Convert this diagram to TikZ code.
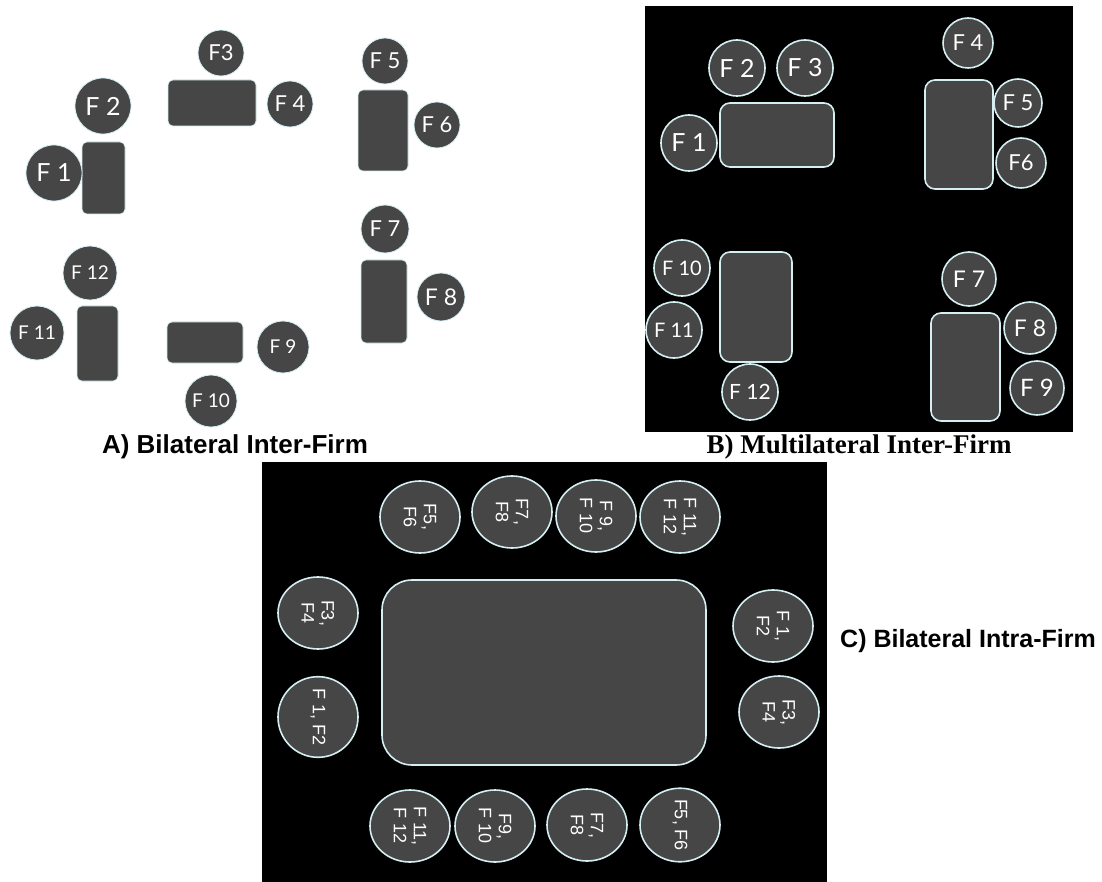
\documentclass[tikz,border=0pt]{standalone}
\usepackage{fontspec}
\setmainfont{Liberation Serif}
\setsansfont{Liberation Sans}
\newfontfamily\seatfont{Lato}
\usetikzlibrary{shapes.geometric}
\definecolor{seatgray}{HTML}{464646}
\definecolor{rim}{HTML}{D4EEF2}
\tikzset{
  seatA/.style={circle, fill=seatgray, draw=rim, line width=0.8pt, inner sep=0pt, text=white, font=\seatfont\fontsize{#1}{#1}\selectfont},
  seatB/.style={circle, fill=seatgray, draw=rim, line width=1.6pt, inner sep=0pt, text=white, font=\seatfont\fontsize{#1}{#1}\selectfont},
  tableA/.style={rectangle, rounded corners=5pt, fill=seatgray, draw=rim, line width=0.6pt, inner sep=0pt},
  tableB/.style={rectangle, rounded corners=10pt, fill=seatgray, draw=rim, line width=1.6pt, inner sep=0pt},
  seatC/.style={ellipse, fill=seatgray, draw=rim, line width=1.6pt, inner sep=0pt, minimum width=72pt, minimum height=80pt, text=white, rotate=-90, align=center, font=\sffamily\fontsize{18}{20}\selectfont},
  caption/.style={font=\bfseries\fontsize{#1}{#1}\selectfont, inner sep=0pt},
}
\begin{document}
\begin{tikzpicture}[x=1pt,y=-1pt]
\useasboundingbox (0,0) rectangle (1102,882);
\fill[white] (0,0) rectangle (1102,882);

% ---------------- Panel A ----------------
\node[tableA, minimum width=43pt, minimum height=72pt] (a1) at (103.5,178) {};
\node[tableA, minimum width=88pt, minimum height=46pt] (a2) at (212,103) {};
\node[tableA, minimum width=50pt, minimum height=81pt] (a3) at (383,130.5) {};
\node[tableA, minimum width=46pt, minimum height=83pt] (a4) at (384,301.5) {};
\node[tableA, minimum width=41pt, minimum height=75pt] (a5) at (97.5,343.5) {};
\node[tableA, minimum width=76pt, minimum height=41pt] (a6) at (205,342.5) {};

\node[seatA=22, minimum size=46pt] (aF3) at (221,53) {F3};
\node[seatA=22, minimum size=46pt] (aF4) at (290,104) {F 4};
\node[seatA=25, minimum size=56pt] (aF2) at (103,106) {F 2};
\node[seatA=25, minimum size=56pt] (aF1) at (54,173) {F 1};
\node[seatA=22, minimum size=46pt] (aF5) at (385,61) {F 5};
\node[seatA=22, minimum size=46pt] (aF6) at (437,125) {F 6};
\node[seatA=22, minimum size=48pt] (aF7) at (385,229) {F 7};
\node[seatA=23, minimum size=48pt] (aF8) at (441,297) {F 8};
\node[seatA=19, minimum size=54pt] (aF12) at (90,273) {F 12};
\node[seatA=19, minimum size=54pt] (aF11) at (37,333) {F 11};
\node[seatA=19, minimum size=52pt] (aF9) at (283,347) {F 9};
\node[seatA=19, minimum size=52pt] (aF10) at (211,401) {F 10};

\node[caption=26, font=\sffamily\bfseries\fontsize{26}{26}\selectfont] (capA) at (235,447) {A) Bilateral Inter-Firm};

% ---------------- Panel B ----------------
\fill[black] (645,6) rectangle (1073,432);
\node[tableB, minimum width=114pt, minimum height=64pt] (b1) at (777,135) {};
\node[tableB, minimum width=68pt, minimum height=109pt] (b2) at (959,134.5) {};
\node[tableB, minimum width=72pt, minimum height=110pt] (b3) at (756,307) {};
\node[tableB, minimum width=69pt, minimum height=108pt] (b4) at (965.5,367) {};

\node[seatB=25, minimum size=56pt] (bF2) at (737,68) {F 2};
\node[seatB=25, minimum size=56pt] (bF3) at (805,68) {F 3};
\node[seatB=25, minimum size=56pt] (bF1) at (689,143) {F 1};
\node[seatB=22, minimum size=50pt] (bF4) at (968,43) {F 4};
\node[seatB=22, minimum size=48pt] (bF5) at (1018,103) {F 5};
\node[seatB=22, minimum size=50pt] (bF6) at (1021,163) {F6};
\node[seatB=20, minimum size=56pt] (bF10) at (682,268) {F 10};
\node[seatB=20, minimum size=56pt] (bF11) at (674,330) {F 11};
\node[seatB=21, minimum size=56pt] (bF12) at (750,392) {F 12};
\node[seatB=23, minimum size=54pt] (bF7) at (969,279) {F 7};
\node[seatB=23, minimum size=52pt] (bF8) at (1030,328) {F 8};
\node[seatB=24, minimum size=54pt] (bF9) at (1037,388) {F 9};

\node[caption=27] (capB) at (859,447) {B) Multilateral Inter-Firm};

% ---------------- Panel C ----------------
\fill[black] (262,462) rectangle (827,882);
\node[rectangle, rounded corners=30pt, fill=seatgray, draw=rim, line width=1.6pt, minimum width=324pt, minimum height=185pt, inner sep=0pt] (c0) at (544,672.5) {};

\node[seatC] (cT1) at (420,517) {F5,\\F6};
\node[seatC] (cT2) at (512,512) {F7,\\F8};
\node[seatC] (cT3) at (596,516) {F 9,\\F 10};
\node[seatC] (cT4) at (680,517) {F 11,\\F 12};
\node[seatC] (cL1) at (318,613) {F3,\\F4};
\node[seatC] (cL2) at (318,717) {F 1, F2};
\node[seatC] (cR1) at (773,626) {F 1,\\F2};
\node[seatC] (cR2) at (779,712) {F3,\\F4};
\node[seatC] (cB1) at (410,826) {F 11,\\F 12};
\node[seatC] (cB2) at (495,826) {F9,\\F 10};
\node[seatC] (cB3) at (587,825) {F7,\\F8};
\node[seatC] (cB4) at (680,825) {F5, F6};

\node[caption=25, font=\sffamily\bfseries\fontsize{25}{25}\selectfont] (capC) at (968,641) {C) Bilateral Intra-Firm};
\end{tikzpicture}
\end{document}
